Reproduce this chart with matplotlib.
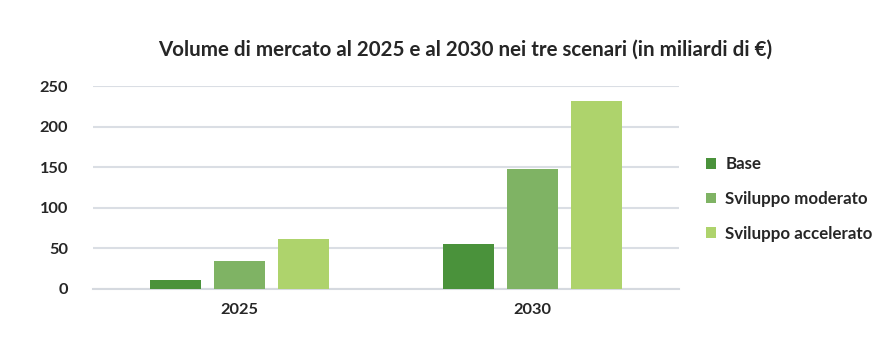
import matplotlib.pyplot as plt
import numpy as np

years = ["2025", "2030"]
scenarios = ["Base", "Sviluppo moderato", "Sviluppo accelerato"]
values = {
    "Base": [11, 56],
    "Sviluppo moderato": [34, 148],
    "Sviluppo accelerato": [61, 231],
}
colors = ["#4a923b", "#7fb364", "#aed36c"]
y_ticks = [0, 50, 100, 150, 200, 250]

plt.rcParams['font.family'] = ['Lato', 'DejaVu Sans']

fig = plt.figure(figsize=(8.92, 3.6), dpi=100)
ax = fig.add_axes([93 / 892, 71 / 360, 586 / 892, 203 / 360])

x = np.arange(len(years))
width = 0.174
step = 0.22
for i, (name, c) in enumerate(zip(scenarios, colors)):
    ax.bar(x + (i - 1) * step, values[name], width, color=c, label=name, zorder=3)

ax.set_xlim(-0.5, 1.5)
ax.set_ylim(0, 250)
ax.set_yticks(y_ticks)
ax.set_xticks(x)
ax.set_xticklabels(years)
ax.yaxis.grid(True, color="#dadee4", linewidth=1.5, zorder=0)
ax.tick_params(axis="both", length=0, labelsize=11.8, colors="#262626")
ax.tick_params(axis="y", pad=18)
ax.tick_params(axis="x", pad=10)
for lbl in ax.get_xticklabels() + ax.get_yticklabels():
    lbl.set_fontweight("bold")
for s in ["top", "right", "left"]:
    ax.spines[s].set_visible(False)
ax.spines["bottom"].set_color("#d5d9df")
ax.spines["bottom"].set_linewidth(1.5)

leg = ax.legend(loc="center left", bbox_to_anchor=(1.02, 0.443), frameon=False,
                handlelength=0.6, handleheight=0.6, handletextpad=0.55,
                labelspacing=1.1, prop={"size": 12.2, "weight": "bold"})
for t in leg.get_texts():
    t.set_color("#262626")

fig.text(465 / 892, 1 - 50 / 360, "Volume di mercato al 2025 e al 2030 nei tre scenari (in miliardi di €)",
         ha="center", va="center", fontsize=14.8, fontweight="bold", color="#262626")

fig.savefig("out.png", dpi=100)
